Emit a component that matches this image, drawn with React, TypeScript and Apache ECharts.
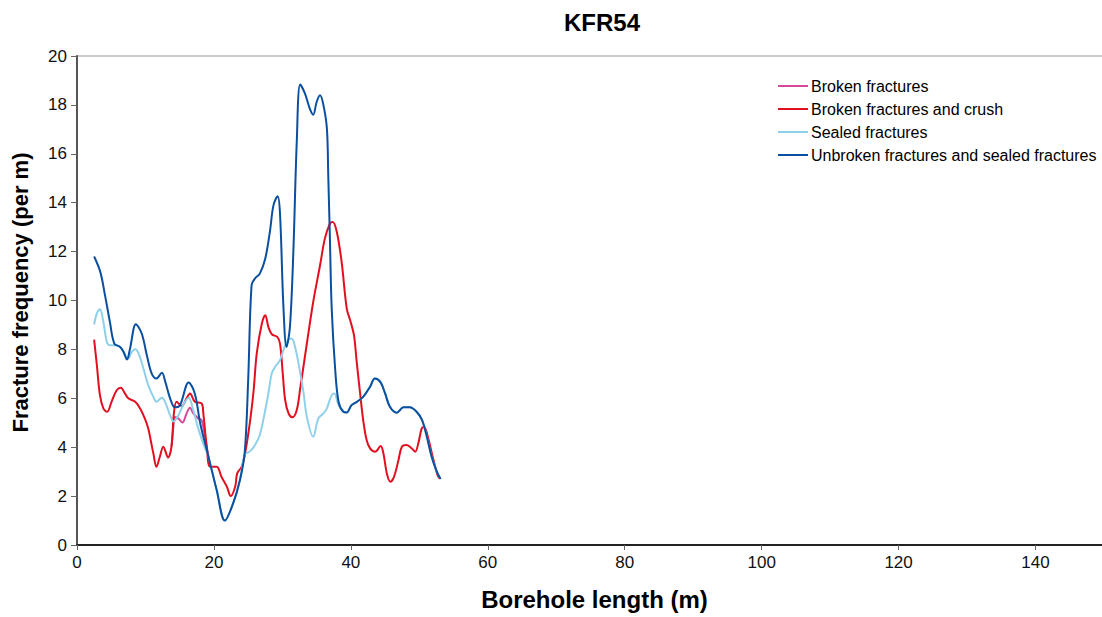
import React, { useEffect, useRef } from "react";
import * as echarts from "echarts";

const titleText = "KFR54";
const xAxisName = "Borehole length (m)";
const yAxisName = "Fracture frequency (per m)";
const seriesNames = [
  "Broken fractures",
  "Broken fractures and crush",
  "Sealed fractures",
  "Unbroken fractures and sealed fractures",
];
const seriesColors = ["#d6489a", "#e30f1f", "#8fd0ea", "#0b4f9f"];

const brokenFractures: number[][] = [
  [13.8, 4.02], [14.1, 4.9], [14.3, 5.24], [14.8, 5.18], [15.4, 5.01], [16.0, 5.38],
  [16.5, 5.61], [17.0, 5.38], [17.7, 5.18], [18.2, 5.11], [18.6, 4.6], [18.95, 4.02],
  [19.45, 3.2],
];

const brokenCrush: number[][] = [
  [2.5, 8.4], [2.9, 7.36], [3.35, 6.13], [3.85, 5.59], [4.4, 5.45], [5.05, 5.86],
  [5.8, 6.33], [6.4, 6.43], [7.0, 6.2], [7.5, 6.0], [8.5, 5.86], [9.2, 5.59],
  [9.9, 5.18], [10.4, 4.77], [10.9, 4.09], [11.15, 3.75], [11.6, 3.2], [12.1, 3.61],
  [12.6, 4.02], [13.3, 3.58], [13.8, 4.02], [14.15, 5.38], [14.55, 5.86], [15.3, 5.68],
  [16.0, 6.0], [16.5, 6.2], [17.2, 5.86], [18.2, 5.79], [18.45, 5.38], [18.95, 4.02],
  [19.45, 3.2], [20.4, 3.2], [21.1, 2.79], [21.9, 2.38], [22.45, 2.0], [23.1, 2.38],
  [23.4, 2.93], [24.05, 3.2], [24.55, 3.75], [25.3, 5.11], [25.8, 6.33], [26.25, 7.83],
  [27.0, 9.06], [27.5, 9.4], [27.95, 8.92], [28.45, 8.62], [29.25, 8.51], [29.65, 8.24],
  [30.05, 7.02], [30.4, 5.93], [30.9, 5.38], [31.45, 5.22], [32.1, 5.52], [32.6, 6.4],
  [33.55, 8.2], [34.5, 9.94], [35.5, 11.44], [36.2, 12.53], [36.95, 13.15], [37.35, 13.21],
  [37.95, 12.8], [38.65, 11.58], [39.4, 9.67], [39.9, 9.19], [40.45, 8.58], [40.85, 7.5],
  [41.35, 6.2], [41.8, 5.11], [42.3, 4.29], [42.8, 3.95], [43.55, 3.81], [44.35, 4.05],
  [44.75, 3.75], [45.25, 2.93], [45.75, 2.59], [46.3, 2.79], [46.95, 3.47], [47.45, 4.02],
  [48.15, 4.09], [48.9, 3.95], [49.4, 3.81], [49.85, 4.16], [50.35, 4.77], [50.7, 4.83],
  [51.3, 4.36], [51.95, 3.61], [52.65, 2.86], [52.95, 2.72],
];

const sealedFractures: number[][] = [
  [2.5, 9.02], [2.9, 9.47], [3.35, 9.64], [3.85, 9.13], [4.35, 8.31], [4.8, 8.17],
  [5.8, 8.17], [6.5, 8.04], [7.0, 7.76], [7.5, 7.63], [8.0, 7.9], [8.5, 8.01],
  [9.0, 7.83], [9.7, 7.22], [10.4, 6.54], [11.15, 6.06], [11.6, 5.86], [12.4, 6.02],
  [12.85, 5.86], [13.6, 5.3], [14.1, 5.05], [14.8, 5.3], [15.5, 5.72], [16.3, 6.02],
  [17.0, 5.5], [17.7, 4.77], [18.5, 4.1], [19.2, 3.61], [20.4, 2.25], [21.6, 1.0],
  [22.8, 1.7], [23.8, 2.66], [24.5, 3.7], [25.3, 3.84], [26.0, 4.09], [26.7, 4.5],
  [27.3, 5.24], [27.95, 6.2], [28.45, 7.02], [28.95, 7.29], [29.65, 7.56], [30.15, 7.97],
  [30.85, 8.41], [31.35, 8.45], [31.85, 8.1], [32.35, 7.43], [33.05, 6.3], [33.6, 5.2],
  [34.5, 4.43], [35.25, 5.18], [36.0, 5.38], [36.5, 5.59], [37.2, 6.13], [37.6, 6.2],
  [38.2, 5.72], [38.9, 5.45], [39.4, 5.42], [40.1, 5.72], [40.9, 5.86], [41.8, 6.06],
  [42.8, 6.47], [43.5, 6.81], [44.3, 6.67], [45.0, 6.2], [45.7, 5.65], [46.7, 5.41],
  [47.7, 5.63], [48.6, 5.63], [49.6, 5.45], [50.4, 5.11], [51.1, 4.43], [51.8, 3.61],
  [52.55, 3.0], [53.1, 2.7],
];

const unbrokenSealed: number[][] = [
  [2.5, 11.8], [3.4, 11.17], [4.1, 10.2], [4.8, 9.13], [5.45, 8.24], [6.3, 8.1],
  [6.8, 7.9], [7.3, 7.59], [7.75, 8.04], [8.6, 9.03], [9.45, 8.65], [10.2, 7.76],
  [10.9, 7.02], [11.6, 6.81], [12.4, 7.04], [12.9, 6.67], [13.6, 6.0], [14.3, 5.63],
  [15.05, 5.72], [16.3, 6.65], [17.2, 6.2], [18.0, 4.97], [19.2, 3.61], [20.4, 2.25],
  [21.6, 1.0], [22.8, 1.7], [23.8, 2.66], [24.5, 3.8], [25.0, 6.74], [25.5, 10.63],
  [26.0, 10.9], [26.7, 11.1], [27.5, 11.72], [28.2, 12.87], [28.7, 13.9], [29.3, 14.26],
  [29.65, 13.56], [30.15, 9.74], [30.6, 8.1], [31.1, 8.92], [31.6, 12.0], [32.1, 16.5],
  [32.6, 18.83], [33.3, 18.46], [34.0, 17.85], [34.5, 17.6], [35.0, 18.12], [35.5, 18.39],
  [36.0, 17.98], [36.5, 17.03], [36.7, 15.1], [36.95, 12.4], [37.2, 9.68], [37.7, 7.22],
  [38.2, 5.86], [38.9, 5.45], [39.4, 5.42], [40.1, 5.72], [40.9, 5.86], [41.8, 6.06],
  [42.8, 6.47], [43.5, 6.81], [44.3, 6.67], [45.0, 6.2], [45.7, 5.65], [46.7, 5.41],
  [47.7, 5.63], [48.6, 5.63], [49.6, 5.45], [50.4, 5.11], [51.1, 4.43], [51.8, 3.61],
  [52.55, 3.0], [53.1, 2.7],
];

const seriesData = [brokenFractures, brokenCrush, sealedFractures, unbrokenSealed];

const FONT = "'Liberation Sans', Arial, sans-serif";

export default function App() {
  const ref = useRef<HTMLDivElement>(null);
  useEffect(() => {
    if (!ref.current) return;
    const chart = echarts.init(ref.current, undefined, { renderer: "svg" });
    chart.setOption({
      animation: false,
      backgroundColor: "#ffffff",
      title: {
        text: titleText,
        left: 597,
        top: 5,
        textAlign: "center",
        textStyle: { fontFamily: FONT, fontSize: 24, fontWeight: "bold", color: "#000" },
      },
      legend: {
        orient: "vertical",
        left: 778,
        top: 77,
        padding: 0,
        itemWidth: 30,
        itemHeight: 2,
        itemGap: 5,
        icon: "rect",
        data: seriesNames,
        textStyle: { fontFamily: FONT, fontSize: 16, lineHeight: 18, color: "#000", padding: [0, 0, 0, -2] },
      },
      grid: {
        left: 77,
        top: 56,
        width: 1027,
        height: 489,
        show: true,
        borderColor: "#999",
        borderWidth: 1,
        containLabel: false,
        outerBoundsMode: "none",
      },
      xAxis: {
        type: "value",
        min: 0,
        max: 150,
        interval: 20,
        name: xAxisName,
        nameLocation: "middle",
        nameGap: 42,
        nameTextStyle: { fontFamily: FONT, fontSize: 24, fontWeight: "bold", color: "#000", padding: [0, 0, 0, 8] },
        axisLine: { lineStyle: { color: "#222", width: 2 } },
        axisTick: { show: true, length: 5, lineStyle: { color: "#666", width: 1 } },
        axisLabel: { fontFamily: FONT, fontSize: 17, color: "#111", margin: 9, showMaxLabel: false },
        splitLine: { show: false },
      },
      yAxis: {
        type: "value",
        min: 0,
        max: 20,
        interval: 2,
        name: yAxisName,
        nameLocation: "middle",
        nameGap: 46,
        nameTextStyle: { fontFamily: FONT, fontSize: 22, fontWeight: "bold", color: "#000", padding: [0, 0, 0, 16] },
        axisLine: { show: true, lineStyle: { color: "#555", width: 2 } },
        axisTick: { show: true, length: 6, lineStyle: { color: "#666", width: 1 } },
        axisLabel: { fontFamily: FONT, fontSize: 17, color: "#111", margin: 10 },
        splitLine: { show: false },
      },
      series: seriesNames.map((name, i) => ({
        name,
        type: "line",
        data: seriesData[i],
        smooth: 0.35,
        showSymbol: false,
        symbol: "none",
        clip: true,
        lineStyle: { color: seriesColors[i], width: 2 },
        itemStyle: { color: seriesColors[i] },
        z: 2 + i,
      })),
    });
    return () => chart.dispose();
  }, []);
  return <div ref={ref} style={{ position: "fixed", left: 0, top: 0, width: 1102, height: 617 }} />;
}
